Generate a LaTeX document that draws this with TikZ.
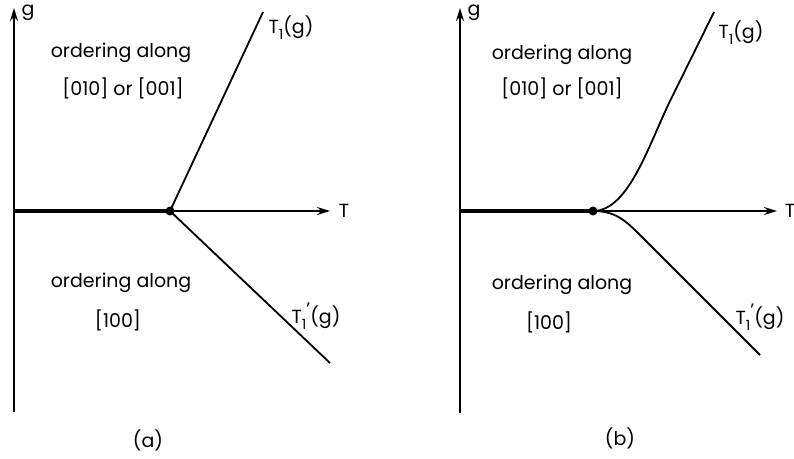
\documentclass[tikz,border=0pt]{standalone}
\usepackage{fontspec}
\setmainfont{Poppins}
\usetikzlibrary{arrows.meta}
\newcommand{\subone}{\raisebox{-0.32em}{\fontsize{14}{14}\selectfont 1}}
\newcommand{\Tone}{T\subone(g)}
\newcommand{\Tonep}{T\subone\raisebox{0.42em}{\fontsize{18}{18}\selectfont\textquoteright}(g)}

\begin{document}
\begin{tikzpicture}[x=1pt,y=-1pt,
    axis/.style={line width=1.9pt,-{Stealth[length=13pt,width=8pt]}},
    phase/.style={line width=1.8pt},
    first/.style={line width=3.4pt},
    txt/.style={font=\fontsize{19}{22}\selectfont,inner sep=0pt},
    crit/.style={circle,fill=black,inner sep=0pt,minimum size=9pt}]
    \useasboundingbox (0,0) rectangle (794,458);
    % (a) straight boundaries
    \coordinate (oa) at (14,211);
    \coordinate (ga) at (14,8);
    \coordinate (ba) at (14,412);
    \coordinate (ta) at (330,211);
    \node[crit] (ca) at (170,211) {};
    \coordinate (ua) at (263,12);
    \coordinate (la) at (330,363);
    \draw[axis] (ba) -- (ga);
    \draw[axis] (oa) -- (ta);
    \draw[first] (oa) -- (ca.center);
    \draw[phase] (ca.center) -- (ua);
    \draw[phase] (ca.center) -- (la);
    \node[txt] (gla) at (28,13) {g};
    \node[txt] (tla) at (344,211) {T};
    \node[txt] (upa) at (291,28) {\Tone};
    \node[txt] (lpa) at (316,316) {\Tonep};
    \node[txt] (ra1) at (121,53) {ordering along};
    \node[txt] (ra2) at (123,88) {[010] or [001]};
    \node[txt] (ra3) at (121,283) {ordering along};
    \node[txt] (ra4) at (118,320) {[100]};
    \node[txt] (capa) at (148,440) {(a)};
    % (b) smooth boundaries
    \coordinate (ob) at (460,211);
    \coordinate (gb) at (460,8);
    \coordinate (bb) at (460,413);
    \coordinate (tb) at (777,211);
    \node[crit] (cb) at (593,211) {};
    \coordinate (ub) at (714,12);
    \coordinate (lb) at (760,355);
    \draw[axis] (bb) -- (gb);
    \draw[axis] (ob) -- (tb);
    \draw[first] (ob) -- (cb.center);
    \draw[phase] (cb.center) .. controls (630,211) and (650,140) .. (673,95) -- (ub);
    \draw[phase] (cb.center) .. controls (615,211) and (625,220) .. (640,235) -- (lb);
    \node[txt] (glb) at (474,13) {g};
    \node[txt] (tlb) at (790,211) {T};
    \node[txt] (upb) at (741,33) {\Tone};
    \node[txt] (lpb) at (760,317) {\Tonep};
    \node[txt] (rb1) at (562,55) {ordering along};
    \node[txt] (rb2) at (562,88) {[010] or [001]};
    \node[txt] (rb3) at (562,285) {ordering along};
    \node[txt] (rb4) at (549,322) {[100]};
    \node[txt] (capb) at (620,438) {(b)};
\end{tikzpicture}
\end{document}
